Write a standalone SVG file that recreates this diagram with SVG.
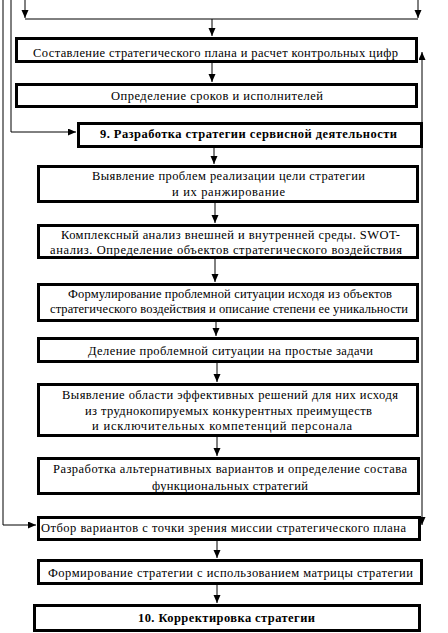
<svg xmlns="http://www.w3.org/2000/svg" width="448" height="633" viewBox="0 0 448 633">
<style>
.box{fill:#fff;stroke:#000;stroke-width:3}
.ln{fill:none;stroke:#000;stroke-width:1}
.t{font-family:'Liberation Serif','DejaVu Serif',serif;font-size:12.5px;fill:#000}
.b{font-weight:bold}
</style>
<defs>
<marker id="ah" markerUnits="userSpaceOnUse" markerWidth="8" markerHeight="8" refX="8" refY="3.5" orient="auto-start-reverse">
<path d="M0,0 L8,3.5 L0,7 Z" fill="#000"/>
</marker>
</defs>
<rect width="448" height="633" fill="#fff"/>
<g id="connectors">
<path class="ln" d="M25,0 V18" marker-end="url(#ah)"/>
<path class="ln" d="M418,0 V18" marker-end="url(#ah)"/>
<path class="ln" d="M25,19 H418"/>
<path class="ln" d="M212,19 V36" marker-end="url(#ah)"/>
<path class="ln" d="M212,63 V82" marker-end="url(#ah)"/>
<path class="ln" d="M11,0 V132 H76" marker-end="url(#ah)"/>
<path class="ln" d="M3,0 V525 H36" marker-end="url(#ah)"/>
<path class="ln" d="M422,52 V525" marker-start="url(#ah)" marker-end="url(#ah)"/>
<path class="ln" d="M214,148 V164" marker-end="url(#ah)"/>
<path class="ln" d="M215,203 V223" marker-end="url(#ah)"/>
<path class="ln" d="M215,259 V282" marker-end="url(#ah)"/>
<path class="ln" d="M216,322 V336" marker-end="url(#ah)"/>
<path class="ln" d="M217,363 V382" marker-end="url(#ah)"/>
<path class="ln" d="M217,437 V456" marker-end="url(#ah)"/>
<path class="ln" d="M217,541 V558" marker-end="url(#ah)"/>
<path class="ln" d="M217,585 V603" marker-end="url(#ah)"/>
</g>
<g id="n1"><rect class="box" x="16.5" y="38.5" width="400" height="23"/><text class="t" x="33" y="57" textLength="365" lengthAdjust="spacing">Составление стратегического плана и расчет контрольных цифр</text></g>
<g id="n2"><rect class="box" x="16.5" y="84.5" width="400" height="22"/><text class="t" x="111" y="100" textLength="212" lengthAdjust="spacing">Определение сроков и исполнителей</text></g>
<g id="n3"><rect class="box" x="78.5" y="123.5" width="343" height="23"/><text class="t b" x="100" y="138" textLength="297" lengthAdjust="spacing">9. Разработка стратегии сервисной деятельности</text></g>
<g id="n4"><rect class="box" x="38.5" y="166.5" width="379" height="35"/><text class="t" x="92" y="180" textLength="273" lengthAdjust="spacing">Выявление проблем реализации цели стратегии</text><text class="t" x="172" y="196" textLength="113" lengthAdjust="spacing">и их ранжирование</text></g>
<g id="n5"><rect class="box" x="38.5" y="225.5" width="379" height="32"/><text class="t" x="61" y="239" textLength="339" lengthAdjust="spacing">Комплексный анализ внешней и внутренней среды. SWOT-</text><text class="t" x="50" y="254" textLength="352" lengthAdjust="spacing">анализ. Определение объектов стратегического воздействия</text></g>
<g id="n6"><rect class="box" x="38.5" y="284.5" width="379" height="36"/><text class="t" x="68" y="298" textLength="324" lengthAdjust="spacing">Формулирование проблемной ситуации исходя из объектов</text><text class="t" x="50" y="313" textLength="358" lengthAdjust="spacing">стратегического воздействия и описание степени ее уникальности</text></g>
<g id="n7"><rect class="box" x="38.5" y="338.5" width="379" height="23"/><text class="t" x="88" y="355" textLength="285" lengthAdjust="spacing">Деление проблемной ситуации на простые задачи</text></g>
<g id="n8"><rect class="box" x="38.5" y="384.5" width="379" height="51"/><text class="t" x="62" y="399" textLength="336" lengthAdjust="spacing">Выявление области эффективных решений для них исходя</text><text class="t" x="85" y="415" textLength="287" lengthAdjust="spacing">из труднокопируемых конкурентных преимуществ</text><text class="t" x="92" y="430" textLength="260" lengthAdjust="spacing">и исключительных компетенций персонала</text></g>
<g id="n9"><rect class="box" x="38.5" y="458.5" width="380" height="35"/><text class="t" x="53" y="473" textLength="354" lengthAdjust="spacing">Разработка альтернативных вариантов и определение состава</text><text class="t" x="152" y="490" textLength="156" lengthAdjust="spacing">функциональных стратегий</text></g>
<g id="n10"><rect class="box" x="38.5" y="517.5" width="381" height="22"/><text class="t" x="41" y="532" textLength="365" lengthAdjust="spacing">Отбор вариантов с точки зрения миссии стратегического плана</text></g>
<g id="n11"><rect class="box" x="38.5" y="560.5" width="383" height="23"/><text class="t" x="48" y="577" textLength="365" lengthAdjust="spacing">Формирование стратегии с использованием матрицы стратегии</text></g>
<g id="n12"><rect class="box" x="34.5" y="605.5" width="385" height="25"/><text class="t b" x="138" y="622" textLength="177" lengthAdjust="spacing">10. Корректировка стратегии</text></g>
</svg>
